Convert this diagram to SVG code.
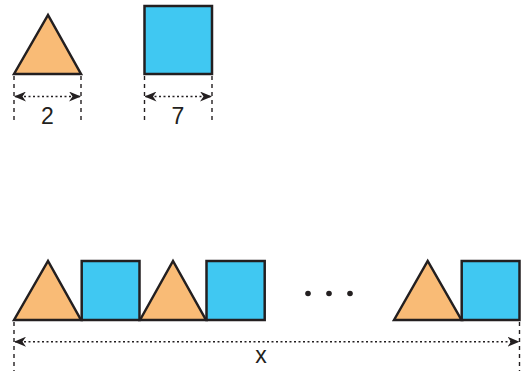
<svg xmlns="http://www.w3.org/2000/svg" width="531" height="371" viewBox="0 0 531 371">
<style>
.tri{fill:#F9BB76;stroke:#231F20;stroke-width:2.5;stroke-linejoin:miter}
.sq{fill:#40C8F2;stroke:#231F20;stroke-width:2.5}
.ext{stroke:#231F20;stroke-width:1.4;stroke-dasharray:4,4;fill:none}
.dim{stroke:#231F20;stroke-width:1.5;stroke-dasharray:2,2.5;fill:none}
.lbl{font-family:"Liberation Sans",Arial,sans-serif;font-size:23px;fill:#231F20;text-anchor:middle}
</style>
<defs>
<marker id="ah" viewBox="0 0 12 10" refX="11" refY="5" markerWidth="12" markerHeight="10" markerUnits="userSpaceOnUse" orient="auto-start-reverse">
<path d="M0,0 L12,5 L0,10 L3.5,5 Z" fill="#231F20"/>
</marker>
</defs>
<rect width="531" height="371" fill="#ffffff"/>
<g id="triangle-top"><polygon class="tri" points="14,74 48,15 81,74"/></g>
<g id="square-top"><rect class="sq" x="144.5" y="6" width="67.5" height="68"/></g>
<g id="triangle-row-1"><polygon class="tri" points="14,320 48,261 81,320"/></g>
<g id="square-row-1"><rect class="sq" x="81.7" y="261" width="57.8" height="59"/></g>
<g id="triangle-row-2"><polygon class="tri" points="140,320 173,261 206,320"/></g>
<g id="square-row-2"><rect class="sq" x="206.5" y="261" width="58.2" height="59"/></g>
<g id="ellipsis"><circle cx="308" cy="293.5" r="2.8" fill="#231F20"/><circle cx="329" cy="293.5" r="2.8" fill="#231F20"/><circle cx="350" cy="293.5" r="2.8" fill="#231F20"/></g>
<g id="triangle-row-3"><polygon class="tri" points="394,320 427.7,261 461.5,320"/></g>
<g id="square-row-3"><rect class="sq" x="461.7" y="261" width="57.8" height="59"/></g>
<g id="connectors">
<line class="ext" x1="14" y1="76" x2="14" y2="124"/>
<line class="ext" x1="81" y1="76" x2="81" y2="124"/>
<line class="dim" x1="15" y1="96.5" x2="80" y2="96.5" marker-start="url(#ah)" marker-end="url(#ah)"/>
<line class="ext" x1="144.5" y1="76" x2="144.5" y2="124"/>
<line class="ext" x1="212" y1="76" x2="212" y2="124"/>
<line class="dim" x1="145.5" y1="96.5" x2="211" y2="96.5" marker-start="url(#ah)" marker-end="url(#ah)"/>
<line class="ext" x1="14" y1="322" x2="14" y2="371"/>
<line class="ext" x1="519.5" y1="322" x2="519.5" y2="371"/>
<line class="dim" x1="15" y1="341.7" x2="518.5" y2="341.7" marker-start="url(#ah)" marker-end="url(#ah)"/>
</g>
<g id="labels">
<text class="lbl" x="47.5" y="124">2</text>
<text class="lbl" x="178" y="124">7</text>
<text class="lbl" x="261" y="363">x</text>
</g>
</svg>
